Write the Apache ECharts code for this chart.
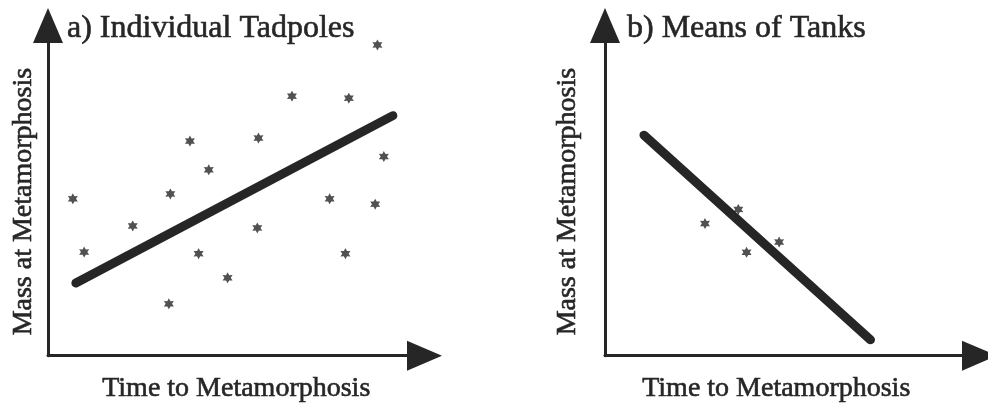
<!DOCTYPE html>
<html>
<head>
<meta charset="utf-8">
<title>Tadpoles: mass vs time to metamorphosis</title>
<script src="https://cdn.jsdelivr.net/npm/echarts@6/dist/echarts.min.js"></script>
<style>
  html, body { margin: 0; padding: 0; background: #ffffff; }
  #chart { width: 988px; height: 408px; }
</style>
</head>
<body>
<div id="chart"></div>
<script>
// Panel a: individual tadpoles (time to metamorphosis, mass at metamorphosis), arbitrary units 0-100
const tadpoleTime = [6.6, 9.6, 22.5, 32.1, 32.5, 37.7, 40.0, 42.7, 47.7, 55.9, 55.6, 64.8, 74.8, 79.9, 79.0, 87.5, 89.2, 86.9];
const tadpoleMass = [47.5, 31.4, 39.3, 15.7, 49.0, 65.0, 30.9, 56.3, 23.6, 65.9, 38.7, 78.6, 47.5, 78.0, 30.9, 94.1, 60.3, 45.9];
// Fitted trend for panel a (endpoints)
const trendATime = [7.4, 91.6];
const trendAMass = [22.0, 72.7];

// Panel b: tank means
const tankTime = [26.7, 35.6, 37.8, 46.5];
const tankMass = [40.0, 44.3, 31.3, 34.4];
// Fitted trend for panel b (endpoints)
const trendBTime = [10.4, 70.9];
const trendBMass = [66.8, 4.8];

const titles = ['a) Individual Tadpoles', 'b) Means of Tanks'];
const xName = 'Time to Metamorphosis';
const yName = 'Mass at Metamorphosis';

const ink = '#262626';
const serif = '"Liberation Serif", "Times New Roman", serif';
// small six-pointed star used for the data points
const starPath = 'path://M10,0L12.75,5.24L18.66,5L15.5,10L18.66,15L12.75,14.76L10,20L7.25,14.76L1.34,15L4.5,10L1.34,5L7.25,5.24Z';

const zip = (xs, ys) => xs.map((x, i) => [x, ys[i]]);

// slightly heavier serif text
const textBase = { fontFamily: serif, color: ink, textBorderColor: ink, textBorderWidth: 0.6 };

function makeXAxis(gridIndex, shiftLeft) {
  return {
    gridIndex, type: 'value', min: 0, max: 100,
    name: xName, nameLocation: 'middle', nameGap: 19,
    nameTextStyle: Object.assign({}, textBase, {
      fontSize: 28,
      padding: [0, shiftLeft * 2, 0, 0]
    }),
    axisLine: {
      show: true, onZero: false,
      lineStyle: { color: ink, width: 3 },
      symbol: ['none', 'triangle'], symbolSize: [30, 35]
    },
    axisTick: { show: false }, axisLabel: { show: false }, splitLine: { show: false }
  };
}

function makeYAxis(gridIndex, gap) {
  return {
    gridIndex, type: 'value', min: 0, max: 100,
    name: yName, nameLocation: 'middle', nameGap: gap, nameRotate: 90,
    nameTextStyle: Object.assign({}, textBase, {
      fontSize: 28,
      padding: [0, 22, 0, 0]
    }),
    axisLine: {
      show: true, onZero: false,
      lineStyle: { color: ink, width: 3 },
      symbol: ['none', 'triangle'], symbolSize: [30, 35]
    },
    axisTick: { show: false }, axisLabel: { show: false }, splitLine: { show: false }
  };
}

const chart = echarts.init(document.getElementById('chart'), null, { renderer: 'canvas' });

chart.setOption({
  animation: false,
  backgroundColor: '#ffffff',
  title: [
    { text: titles[0], left: 62, top: 8, textStyle: Object.assign({}, textBase, { fontSize: 32, fontWeight: 'normal' }) },
    { text: titles[1], left: 622, top: 8, textStyle: Object.assign({}, textBase, { fontSize: 32, fontWeight: 'normal' }) }
  ],
  grid: [
    { left: 48, top: 25.5, width: 376.5, height: 337.5 },
    { left: 605, top: 25.5, width: 374.5, height: 335.5 }
  ],
  xAxis: [makeXAxis(0, 0), makeXAxis(1, 16)],
  yAxis: [makeYAxis(0, 10), makeYAxis(1, 23)],
  series: [
    {
      type: 'line', xAxisIndex: 0, yAxisIndex: 0,
      data: zip(trendATime, trendAMass),
      showSymbol: false, clip: false,
      lineStyle: { color: ink, width: 9, cap: 'round' }, z: 2
    },
    {
      type: 'scatter', xAxisIndex: 0, yAxisIndex: 0,
      data: zip(tadpoleTime, tadpoleMass),
      symbol: starPath, symbolSize: [10, 11],
      itemStyle: { color: ink }, z: 3
    },
    {
      type: 'line', xAxisIndex: 1, yAxisIndex: 1,
      data: zip(trendBTime, trendBMass),
      showSymbol: false, clip: false,
      lineStyle: { color: ink, width: 9, cap: 'round' }, z: 2
    },
    {
      type: 'scatter', xAxisIndex: 1, yAxisIndex: 1,
      data: zip(tankTime, tankMass),
      symbol: starPath, symbolSize: [10, 11],
      itemStyle: { color: ink }, z: 3
    }
  ]
});
</script>
</body>
</html>
